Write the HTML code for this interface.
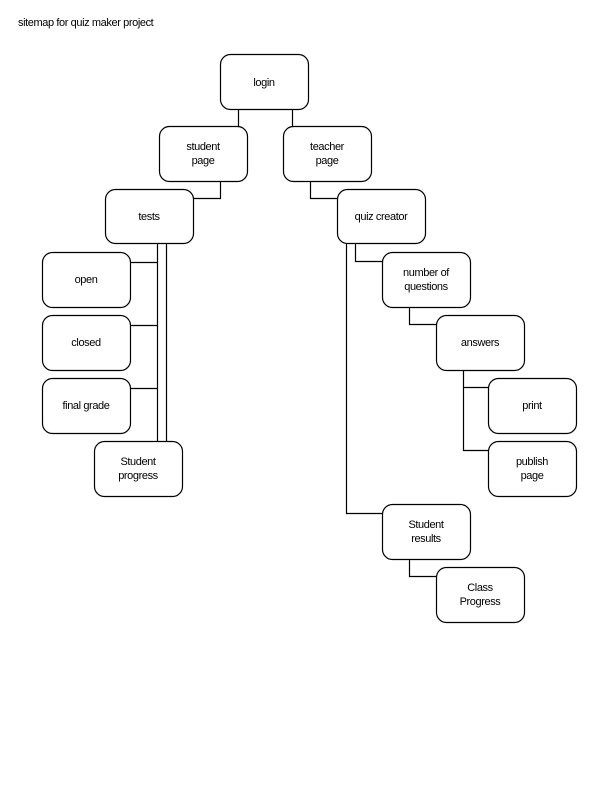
<!DOCTYPE html>
<html><head><meta charset="utf-8"><style>
html,body{margin:0;padding:0;background:#fff;}
svg{display:block;}
text{font-family:"Liberation Sans",sans-serif;font-size:11px;fill:#000;letter-spacing:-0.4px;}
</style></head><body>
<svg width="612" height="792" viewBox="0 0 612 792" xmlns="http://www.w3.org/2000/svg">
<text x="18" y="26">sitemap for quiz maker project</text>
<g fill="#fff" stroke="#000" stroke-width="1.2">
<rect x="220.5" y="54.5" width="88" height="55" rx="10"/>
<rect x="159.5" y="126.5" width="88" height="55" rx="10"/>
<rect x="283.5" y="126.5" width="88" height="55" rx="10"/>
<rect x="105.5" y="189.5" width="88" height="54" rx="10"/>
<rect x="337.5" y="189.5" width="88" height="54" rx="10"/>
<rect x="42.5" y="252.5" width="88" height="55" rx="10"/>
<rect x="42.5" y="315.5" width="88" height="55" rx="10"/>
<rect x="42.5" y="378.5" width="88" height="55" rx="10"/>
<rect x="94.5" y="441.5" width="88" height="55" rx="10"/>
<rect x="382.5" y="252.5" width="88" height="55" rx="10"/>
<rect x="436.5" y="315.5" width="88" height="55" rx="10"/>
<rect x="488.5" y="378.5" width="88" height="55" rx="10"/>
<rect x="488.5" y="441.5" width="88" height="55" rx="10"/>
<rect x="382.5" y="504.5" width="88" height="55" rx="10"/>
<rect x="436.5" y="567.5" width="88" height="55" rx="10"/>
</g>
<g fill="none" stroke="#000" stroke-width="1.2">
<path d="M238.5 109.5V126.5M292.5 109.5V126.5"/>
<path d="M220.5 181.5V198.5H193.5"/>
<path d="M310.5 181.5V198.5H337.5"/>
<path d="M157.5 243.5V441.5M166.5 243.5V441.5"/>
<path d="M130.5 262.5H157.5M130.5 325.5H157.5M130.5 388.5H157.5"/>
<path d="M355.5 243.5V261.5H382.5"/>
<path d="M346.5 243.5V513.5H382.5"/>
<path d="M409.5 307.5V324.5H436.5"/>
<path d="M463.5 370.5V450.5H488.5M463.5 387.5H488.5"/>
<path d="M409.5 559.5V576.5H436.5"/>
</g>
<g text-anchor="middle">
<text x="264" y="86">login</text>
<text x="203" y="150">student</text><text x="203" y="164">page</text>
<text x="327" y="150">teacher</text><text x="327" y="164">page</text>
<text x="149" y="220">tests</text>
<text x="381" y="220">quiz creator</text>
<text x="86" y="283">open</text>
<text x="86" y="346">closed</text>
<text x="86" y="409">final grade</text>
<text x="138" y="465">Student</text><text x="138" y="479">progress</text>
<text x="426" y="276">number of</text><text x="426" y="290">questions</text>
<text x="480" y="346">answers</text>
<text x="532" y="409">print</text>
<text x="532" y="465">publish</text><text x="532" y="479">page</text>
<text x="426" y="528">Student</text><text x="426" y="542">results</text>
<text x="480" y="591">Class</text><text x="480" y="605">Progress</text>
</g>
</svg>
</body></html>
